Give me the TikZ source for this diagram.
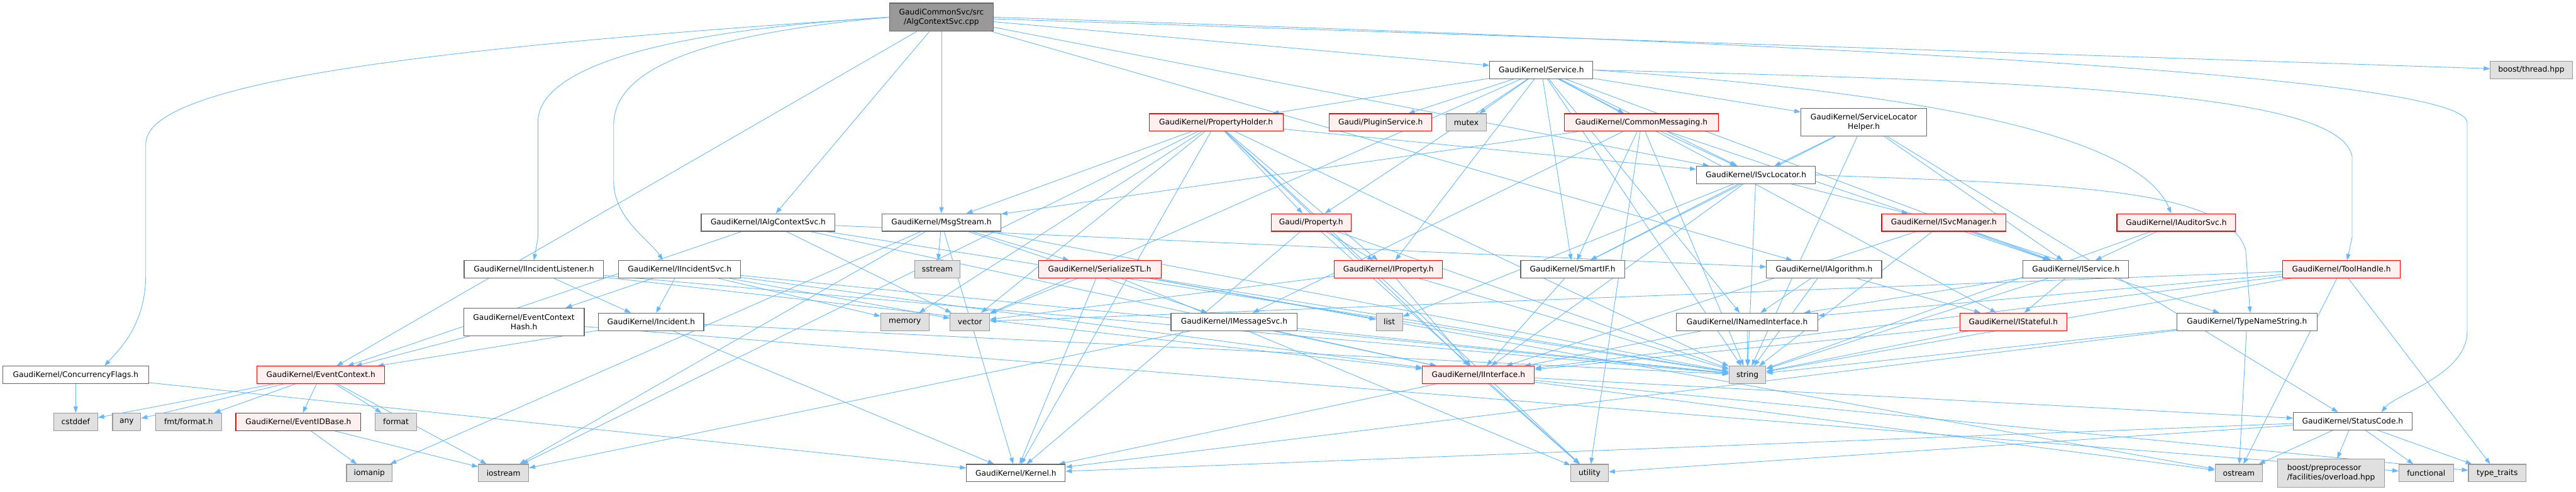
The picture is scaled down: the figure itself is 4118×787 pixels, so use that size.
\documentclass[tikz,border=0pt]{standalone}
\usepackage{fontspec}
\setmainfont{DejaVu Sans}
\usetikzlibrary{arrows.meta}
\pgfdeclarelayer{bg}
\pgfsetlayers{bg,main}
\definecolor{edgeblue}{HTML}{63B8FF}
\definecolor{boxgray}{HTML}{666666}
\definecolor{sysfill}{HTML}{E0E0E0}
\definecolor{sysdraw}{HTML}{999999}
\definecolor{redfill}{HTML}{FFF0F0}
\definecolor{mainfill}{HTML}{999999}
\tikzset{
  base/.style={draw, line width=1.1pt, inner sep=0pt, align=center, font=\fontsize{12.3}{15}\selectfont, text=black},
  plain/.style={base, draw=boxgray, fill=white},
  redbox/.style={base, draw=red, fill=redfill},
  sysbox/.style={base, draw=sysdraw, fill=sysfill},
  mainbox/.style={base, draw=boxgray, fill=mainfill},
  edge/.style={draw=edgeblue, line width=0.9pt, -{Triangle[length=10pt,width=7pt]}}
}
\newcommand{\nd}[7]{\node[#1, minimum width=#4pt, minimum height=#5pt] (#2) at (#6,#7) {#3};}
\begin{document}
\begin{tikzpicture}[x=1pt,y=-1pt]
\useasboundingbox (0,0) rectangle (4118,787);
% row 0
\nd{mainbox}{main}{GaudiCommonSvc/src\\/AlgContextSvc.cpp}{166}{45}{1505}{27.5}
% row 1
\nd{plain}{service}{GaudiKernel/Service.h}{165}{28}{2464}{112}
\nd{sysbox}{boostthread}{boost/thread.hpp}{131}{28}{4046.5}{112}
% row 2
\nd{redbox}{propholder}{GaudiKernel/PropertyHolder.h}{214}{28}{1944}{196}
\nd{redbox}{pluginsvc}{Gaudi/PluginService.h}{164}{28}{2207}{196}
\nd{sysbox}{mutex}{mutex}{64}{28}{2344}{196}
\nd{redbox}{commonmsg}{GaudiKernel/CommonMessaging.h}{246}{28}{2624}{196}
\nd{plain}{svclochelper}{GaudiKernel/ServiceLocator\\Helper.h}{201}{45}{2979.5}{195.5}
% row 2.5
\nd{plain}{isvcloc}{GaudiKernel/ISvcLocator.h}{190}{28}{2807}{280}
% row 3
\nd{plain}{ialgctx}{GaudiKernel/IAlgContextSvc.h}{214}{28}{1228}{356}
\nd{plain}{msgstream}{GaudiKernel/MsgStream.h}{190}{28}{1505}{356}
\nd{redbox}{gproperty}{Gaudi/Property.h}{128}{28}{2096}{356}
\nd{redbox}{isvcmgr}{GaudiKernel/ISvcManager.h}{199}{28}{3107.5}{356}
\nd{redbox}{iauditor}{GaudiKernel/IAuditorSvc.h}{190}{28}{3479}{356}
% row 4
\nd{plain}{iinclistener}{GaudiKernel/IIncidentListener.h}{223}{28}{853.5}{431}
\nd{plain}{iincsvc}{GaudiKernel/IIncidentSvc.h}{195}{28}{1086.5}{431}
\nd{sysbox}{sstream}{sstream}{73}{28}{1498.5}{431}
\nd{redbox}{serializestl}{GaudiKernel/SerializeSTL.h}{196}{28}{1758}{431}
\nd{redbox}{iproperty}{GaudiKernel/IProperty.h}{173}{28}{2219.5}{431}
\nd{plain}{smartif}{GaudiKernel/SmartIF.h}{166}{28}{2514}{431}
\nd{plain}{ialgorithm}{GaudiKernel/IAlgorithm.h}{184}{28}{2916}{431}
\nd{plain}{iservice}{GaudiKernel/IService.h}{169}{28}{3318.5}{431}
\nd{redbox}{toolhandle}{GaudiKernel/ToolHandle.h}{188}{28}{3743}{431}
% row 5
\nd{plain}{evctxhash}{GaudiKernel/EventContext\\Hash.h}{193}{44}{837.5}{515}
\nd{plain}{incident}{GaudiKernel/Incident.h}{168}{28}{1041}{515}
\nd{sysbox}{memory}{memory}{77}{28}{1446.5}{515}
\nd{sysbox}{vector}{vector}{63}{28}{1550.5}{515}
\nd{plain}{imessagesvc}{GaudiKernel/IMessageSvc.h}{202}{28}{1973}{515}
\nd{sysbox}{list}{list}{42}{28}{2221}{515}
\nd{plain}{inamed}{GaudiKernel/INamedInterface.h}{226}{28}{2793}{515}
\nd{redbox}{istateful}{GaudiKernel/IStateful.h}{171}{28}{3218.5}{515}
\nd{plain}{typename}{GaudiKernel/TypeNameString.h}{224}{28}{3592}{515}
% row 6
\nd{plain}{concflags}{GaudiKernel/ConcurrencyFlags.h}{233}{28}{121}{600}
\nd{redbox}{evctx}{GaudiKernel/EventContext.h}{204}{28}{513}{600}
\nd{redbox}{iinterface}{GaudiKernel/IInterface.h}{179}{28}{2363.5}{600}
\nd{sysbox}{string}{string}{59}{28}{2793.5}{600}
% row 7
\nd{sysbox}{cstddef}{cstddef}{70}{28}{121}{675}
\nd{sysbox}{any}{any}{45}{28}{202.5}{675}
\nd{sysbox}{fmtformat}{fmt/format.h}{105}{28}{301.5}{675}
\nd{redbox}{evidbase}{GaudiKernel/EventIDBase.h}{200}{28}{477}{675}
\nd{sysbox}{format}{format}{66}{28}{633}{675}
\nd{plain}{statuscode}{GaudiKernel/StatusCode.h}{190}{28}{3761}{674}
% row 8
\nd{sysbox}{iomanip}{iomanip}{73}{28}{590.5}{757}
\nd{sysbox}{iostream}{iostream}{80}{28}{805}{757}
\nd{plain}{kernel}{GaudiKernel/Kernel.h}{158}{28}{1624}{757}
\nd{sysbox}{utility}{utility}{60}{28}{2541}{757}
\nd{sysbox}{ostream}{ostream}{76}{28}{3579}{757}
\node[sysbox, minimum width=171pt, minimum height=46pt, align=left] (boostpp) at (3726.5,757) {boost/preprocessor\\/facilities/overload.hpp};
\nd{sysbox}{functional}{functional}{87}{28}{3878.5}{757}
\nd{sysbox}{typetraits}{type\_traits}{92}{28}{3992}{757}
% edges
\begin{pgfonlayer}{bg}
\draw[edge] (main.west) .. controls (700,75) and (233,130) .. (233,230) -- (233,440) .. controls (233,520) and (190,560) .. ([xshift=46pt]concflags.north);
\draw[edge] (main.west) .. controls (1050,50) and (860,110) .. (860,195) -- (860,380) -- (iinclistener.north);
\draw[edge] (main.west) .. controls (1120,55) and (981,110) .. (981,200) -- (981,290) .. controls (981,350) and (1040,385) .. ([xshift=-27pt]iincsvc.north);
\draw[edge] (main.east) .. controls (2600,60) and (3930,110) .. (3944,195) -- (3944,530) .. controls (3944,600) and (3830,630) .. ([xshift=46pt]statuscode.north);
\draw[edge] (service.east) .. controls (3300,130) and (3740,150) .. (3760,250) -- (3760,380) -- ([xshift=9pt]toolhandle.north);
\draw[edge] (isvcloc.east) .. controls (3300,295) and (3560,300) .. (3590,400) -- ([xshift=5pt]typename.north);
\draw[edge] (service.east) .. controls (3100,150) and (3420,220) .. ([xshift=-8pt]iauditor.north);
\foreach \a/\b in {
 main/evctx, main/ialgctx, main/msgstream, main/service, main/boostthread, main/ialgorithm, main/isvcloc,
 service/propholder, service/pluginsvc, service/mutex, service/commonmsg, service/svclochelper, service/isvcloc, service/gproperty, service/iproperty, service/smartif, service/iservice, service/istateful, service/vector, service/string, service/inamed,
 propholder/msgstream, propholder/gproperty, propholder/iproperty, propholder/isvcloc, propholder/iinterface, propholder/kernel, propholder/iostream, propholder/string, propholder/vector, propholder/utility, propholder/memory,
 commonmsg/msgstream, commonmsg/imessagesvc, commonmsg/isvcloc, commonmsg/iservice, commonmsg/smartif, commonmsg/utility, commonmsg/string,
 svclochelper/isvcloc, svclochelper/smartif, svclochelper/string, svclochelper/iservice, svclochelper/statuscode,
 isvcloc/iinterface, isvcloc/isvcmgr, isvcloc/smartif, isvcloc/list, isvcloc/string,
 msgstream/sstream, msgstream/iomanip, msgstream/iostream, msgstream/imessagesvc, msgstream/serializestl, msgstream/kernel, msgstream/string,
 gproperty/iproperty, gproperty/string, gproperty/utility, gproperty/kernel,
 isvcmgr/iservice, isvcmgr/string, isvcmgr/typename, isvcmgr/iinterface,
 iauditor/iservice, iauditor/string,
 ialgctx/evctx, ialgctx/iinterface, ialgctx/vector, ialgctx/string, ialgctx/ialgorithm,
 iinclistener/incident, iinclistener/iinterface, iinclistener/string,
 iincsvc/evctxhash, iincsvc/incident, iincsvc/iinterface, iincsvc/string, iincsvc/vector, iincsvc/memory,
 serializestl/vector, serializestl/list, serializestl/utility, serializestl/ostream, serializestl/string, serializestl/kernel,
 iproperty/iinterface, iproperty/string, iproperty/vector,
 smartif/iinterface,
 ialgorithm/inamed, ialgorithm/istateful, ialgorithm/string,
 iservice/inamed, iservice/istateful, iservice/string,
 toolhandle/inamed, toolhandle/iinterface, toolhandle/string, toolhandle/ostream, toolhandle/typetraits, toolhandle/vector,
 evctxhash/evctx, evctxhash/functional,
 incident/evctx, incident/kernel, incident/string,
 imessagesvc/iinterface, imessagesvc/string, imessagesvc/iostream,
 inamed/iinterface, inamed/string,
 istateful/iinterface, istateful/string,
 typename/string, typename/ostream, typename/kernel,
 evctx/cstddef, evctx/any, evctx/fmtformat, evctx/evidbase, evctx/format, evctx/iostream,
 evidbase/iomanip, evidbase/iostream,
 concflags/cstddef, concflags/kernel,
 iinterface/kernel, iinterface/statuscode, iinterface/ostream, iinterface/typetraits, iinterface/utility,
 statuscode/ostream, statuscode/boostpp, statuscode/functional, statuscode/typetraits, statuscode/kernel, statuscode/utility}
 \draw[edge] (\a) -- (\b);
\end{pgfonlayer}
\end{tikzpicture}
\end{document}
